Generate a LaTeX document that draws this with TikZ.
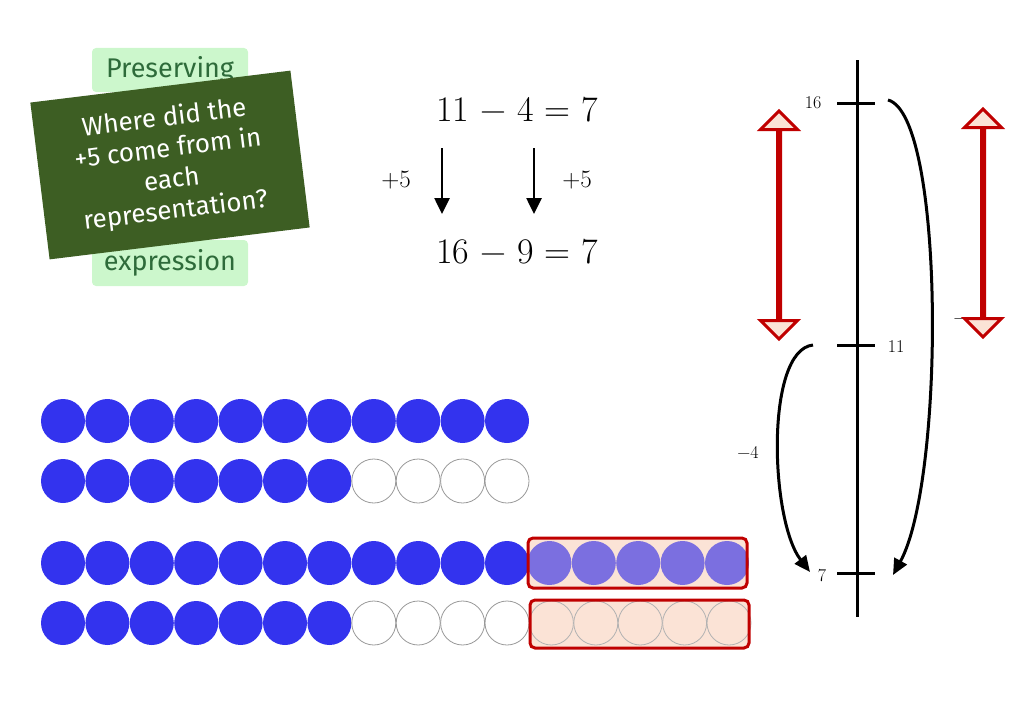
\documentclass[tikz,border=0pt]{standalone}
\usepackage{fontspec}
\setsansfont{Fira Sans}
\usetikzlibrary{shapes.arrows,arrows.meta}
\definecolor{blu}{HTML}{3333EE}
\definecolor{lblu}{HTML}{7B6FE0}
\definecolor{peach}{HTML}{FBE3D6}
\definecolor{dred}{HTML}{C00000}
\definecolor{lgreen}{HTML}{CCF7CC}
\definecolor{tgreen}{HTML}{2E6B3A}
\definecolor{dgreen}{HTML}{3D5E23}
\newcommand{\mns}{\symbol{"2212}}
\begin{document}
\begin{tikzpicture}[x=1pt,y=-1pt,
  bead/.style={circle,minimum size=44pt,inner sep=0pt},
  full/.style={bead,fill=blu},
  empty/.style={bead,draw=black!40,line width=0.8pt,fill=white},
  half/.style={bead,fill=lblu},
  pempty/.style={bead,draw=black!30,line width=0.8pt,fill=peach},
  redbox/.style={draw=dred,line width=3pt,rounded corners=5pt},
  darr/.style={double arrow,draw=dred,line width=3pt,fill=peach,shape border rotate=90,minimum height=228pt,minimum width=26pt,double arrow head extend=17pt,double arrow head indent=0pt,inner sep=0pt},
  lbl/.style={font=\fontsize{18}{22}\selectfont},
  eq/.style={font=\fontsize{36}{42}\selectfont},
  jump/.style={line width=3pt,-{Triangle[length=16pt,width=14pt]}}]
\useasboundingbox (0,0) rectangle (1024,709);
% green labels
\node[fill=lgreen,rounded corners=4pt,minimum width=156pt,minimum height=44pt,text=tgreen,font=\sffamily\fontsize{27}{30}\selectfont] (pres) at (170,70) {Preserving};
\node[fill=lgreen,rounded corners=4pt,minimum width=156pt,minimum height=46pt,text=tgreen,font=\sffamily\fontsize{27}{30}\selectfont] (expr) at (170,263) {expression};
\node[fill=dgreen,rotate=7,minimum width=262pt,minimum height=158pt,text=white,align=center,font=\sffamily\fontsize{26}{31}\selectfont,inner sep=2pt] (q) at (170,165) {Where did the\\+5 come from in\\each\\representation?};
% equations
\node[eq] (e1) at (517,110) {11 \mns{} 4 = 7};
\node[eq] (e2) at (517,252) {16 \mns{} 9 = 7};
\coordinate (a1s) at (442,148); \coordinate (a1e) at (442,214);
\coordinate (a2s) at (534,148); \coordinate (a2e) at (534,214);
\draw[line width=2.6pt,-{Triangle[length=16pt,width=15pt]}] (a1s) -- (a1e);
\draw[line width=2.6pt,-{Triangle[length=16pt,width=15pt]}] (a2s) -- (a2e);
\node[font=\fontsize{25}{28}\selectfont] (p1) at (396,180) {+5};
\node[font=\fontsize{25}{28}\selectfont] (p2) at (577,180) {+5};
% number line
\draw[line width=3pt] (857,60) coordinate (nt) -- (857,617) coordinate (nb);
\foreach \n/\y in {t16/103,t11/345,t7/573}{\draw[line width=3pt] (837,\y) -- (875,\y); \coordinate (\n) at (857,\y);}
\node[lbl] (l16) at (813,103) {16};
\node[lbl] (l11) at (896,347) {11};
\node[lbl] (l7) at (822,576) {7};
\node[lbl] (lm4) at (748,452) {\mns4};
\node[lbl] (lmh) at (960,321) {\mns};
\coordinate (j1s) at (888,100); \coordinate (j1e) at (893,575);
\coordinate (j2s) at (813,345); \coordinate (j2e) at (810,572);
\draw[jump] (j1s) .. controls (945,115) and (945,480) .. (j1e);
\draw[jump] (j2s) .. controls (765,350) and (770,520) .. (j2e);
\node[darr] (da1) at (779,225) {};
\node[darr] (da2) at (983,223) {};
% beads
\foreach \i in {0,...,10}{\node[full] (r1\i) at (63+44.4*\i,421) {};}
\foreach \i in {0,...,6}{\node[full] (r2\i) at (63+44.4*\i,481) {};}
\foreach \i in {7,...,10}{\node[empty] (r2\i) at (63+44.4*\i,481) {};}
\foreach \i in {0,...,10}{\node[full] (r3\i) at (63+44.4*\i,563) {};}
\fill[peach,rounded corners=5pt] (528,538) rectangle (747,588);
\foreach \i in {11,...,15}{\node[half] (r3\i) at (63+44.4*\i-2,563) {};}
\draw[redbox] (528,538) rectangle (747,588);
\foreach \i in {0,...,6}{\node[full] (r4\i) at (63+44.4*\i,623) {};}
\foreach \i in {7,...,10}{\node[empty] (r4\i) at (63+44.4*\i,623) {};}
\fill[peach,rounded corners=5pt] (530,600) rectangle (749,648);
\foreach \i in {11,...,15}{\node[pempty] (r4\i) at (63+44.4*\i,623) {};}
\draw[redbox] (530,600) rectangle (749,648);
\end{tikzpicture}
\end{document}
